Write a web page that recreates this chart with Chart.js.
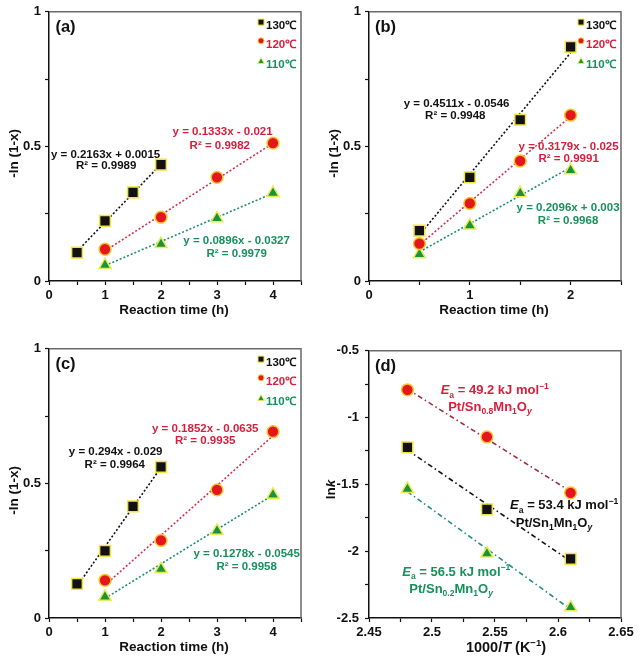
<!DOCTYPE html>
<html><head><meta charset="utf-8">
<script src="https://cdn.jsdelivr.net/npm/chart.js@4"></script>
<style>
body{margin:0;background:#fff;width:640px;height:657px;position:relative;overflow:hidden}
canvas{position:absolute}
</style></head><body>
<canvas id="ca" width="320" height="320" style="left:0;top:0"></canvas>
<canvas id="cb" width="320" height="320" style="left:320px;top:0"></canvas>
<canvas id="cc" width="320" height="320" style="left:0;top:337px"></canvas>
<canvas id="cd" width="320" height="320" style="left:320px;top:337px"></canvas>
<script>
// ---------------- DATA ----------------
const tempLabels = ['130℃', '120℃', '110℃'];

// (a)
const aX130 = [0.5, 1, 1.5, 2];   const aY130 = [0.105, 0.223, 0.329, 0.432];
const aX120 = [1, 2, 3, 4];       const aY120 = [0.118, 0.237, 0.385, 0.512];
const aX110 = [1, 2, 3, 4];       const aY110 = [0.059, 0.137, 0.233, 0.327];
const aFitX130 = [0.5, 2];        const aFitY130 = [0.110, 0.434];
const aFitX120 = [1, 4];          const aFitY120 = [0.112, 0.512];
const aFitX110 = [1, 4];          const aFitY110 = [0.057, 0.326];

// (b)
const bX = [0.5, 1, 1.5, 2];
const bY130 = [0.187, 0.385, 0.599, 0.870];
const bY120 = [0.139, 0.288, 0.446, 0.616];
const bY110 = [0.099, 0.206, 0.326, 0.411];
const bFitX = [0.5, 2];
const bFitY130 = [0.171, 0.848];
const bFitY120 = [0.134, 0.611];
const bFitY110 = [0.108, 0.422];

// (c)
const cX130 = [0.5, 1, 1.5, 2];   const cY130 = [0.127, 0.249, 0.415, 0.561];
const cX120 = [1, 2, 3, 4];       const cY120 = [0.140, 0.288, 0.476, 0.692];
const cX110 = [1, 2, 3, 4];       const cY110 = [0.079, 0.182, 0.324, 0.458];
const cFitX130 = [0.5, 2];        const cFitY130 = [0.118, 0.559];
const cFitX120 = [1, 4];          const cFitY120 = [0.122, 0.677];
const cFitX110 = [1, 4];          const cFitY110 = [0.073, 0.457];

// (d)
const dX = [2.4805, 2.5436, 2.6100];
const dLnkSn08 = [-0.792, -1.145, -1.563];
const dLnkSn1  = [-1.223, -1.687, -2.057];
const dLnkSn02 = [-1.534, -2.018, -2.420];
const dFitX = [2.4805, 2.6100];
const dFitSn08 = [-0.787, -1.553];
const dFitSn1  = [-1.243, -2.075];
const dFitSn02 = [-1.554, -2.435];

// ticks
const abcYTicks = [0, 0.25, 0.5, 0.75, 1];
const abcYLabels = {'0': '0', '0.5': '0.5', '1': '1'};
const acXTicks = [0, 0.5, 1, 1.5, 2, 2.5, 3, 3.5, 4, 4.5];
const acXLabels = {'0': '0', '1': '1', '2': '2', '3': '3', '4': '4'};
const bXTicks = [0, 0.5, 1, 1.5, 2, 2.5];
const bXLabels = {'0': '0', '1': '1', '2': '2'};
const dXTicks = [2.45, 2.475, 2.5, 2.525, 2.55, 2.575, 2.6, 2.625, 2.65];
const dXLabels = {'2.45': '2.45', '2.5': '2.5', '2.55': '2.55', '2.6': '2.6', '2.65': '2.65'};
const dYTicks = [-2.5, -2.25, -2, -1.75, -1.5, -1.25, -1, -0.75, -0.5];
const dYLabels = {'-2.5': '-2.5', '-2': '-2', '-1.5': '-1.5', '-1': '-1', '-0.5': '-0.5'};

// ---------------- STYLE ----------------
const FONT = '"Liberation Sans", Arial, Helvetica, sans-serif';
const COL = {
  black: '#111111', red: '#e4161d', redText: '#d8203c', redLine: '#cf3350',
  green: '#1d9140', greenText: '#17915b', greenLine: '#1b8f6c',
  yellow: '#f2e43a', orange: '#f7c42c', ygreen: '#e6ee55', frame: '#6a6a6a',
  dRed: '#a0303f', dGreen: '#2a8c80'
};
const DOT = [2, 2];
const DASHDOT = [5, 3, 1.5, 3];

function pts(xs, ys) { return xs.map((x, i) => ({x: x, y: ys[i]})); }
const MK = {
  sq: {pointStyle: 'rect', r: 7.6, bg: COL.black, bd: COL.yellow},
  ci: {pointStyle: 'circle', r: 5.9, bg: COL.red, bd: COL.orange},
  tr: {pointStyle: 'triangle', r: 6.9, bg: COL.green, bd: COL.ygreen}
};
function markerDS(xs, ys, kind) {
  const s = MK[kind];
  return {data: pts(xs, ys), showLine: false, pointStyle: s.pointStyle, pointRadius: s.r,
    pointHoverRadius: s.r, pointBackgroundColor: s.bg, pointBorderColor: s.bd, pointBorderWidth: 1.5, order: 0};
}
function fitDS(xs, ys, color, dash) {
  return {data: pts(xs, ys), showLine: true, borderColor: color, borderWidth: 1.6, borderDash: dash,
    pointRadius: 0, pointHoverRadius: 0, fill: false, order: 1};
}

function drawRich(ctx, segs, cx, cy, size, color, rot) {
  ctx.save();
  ctx.translate(cx, cy);
  if (rot) ctx.rotate(rot);
  const f = s => (s.i ? 'italic ' : '') + 'bold ' + ((s.sub || s.sup) ? size * 0.66 : size) + 'px ' + FONT;
  let w = 0;
  segs.forEach(s => { ctx.font = f(s); s.w = ctx.measureText(s.t).width; w += s.w; });
  let x = -w / 2;
  ctx.fillStyle = color;
  ctx.textBaseline = 'alphabetic';
  ctx.textAlign = 'left';
  const base = size * 0.36;
  segs.forEach(s => {
    ctx.font = f(s);
    const dy = s.sub ? size * 0.28 : (s.sup ? -size * 0.42 : 0);
    ctx.fillText(s.t, x, base + dy);
    x += s.w;
  });
  ctx.restore();
}

function drawMarker(ctx, kind, x, y, r) {
  const s = MK[kind];
  ctx.save();
  ctx.fillStyle = s.bg; ctx.strokeStyle = s.bd; ctx.lineWidth = 1;
  ctx.beginPath();
  if (kind === 'sq') { ctx.rect(x - r, y - r, 2 * r, 2 * r); }
  else if (kind === 'ci') { ctx.arc(x, y, r, 0, Math.PI * 2); }
  else { ctx.moveTo(x, y - r * 1.1); ctx.lineTo(x + r, y + r * 0.7); ctx.lineTo(x - r, y + r * 0.7); ctx.closePath(); }
  ctx.fill(); ctx.stroke();
  ctx.restore();
}

function decoPlugin(p) {
  return {
    id: 'deco',
    afterDraw(chart) {
      const ctx = chart.ctx, a = chart.chartArea, sx = chart.scales.x, sy = chart.scales.y;
      // frame top & right
      ctx.save();
      ctx.strokeStyle = COL.frame; ctx.lineWidth = 1.5;
      ctx.beginPath(); ctx.moveTo(a.left, a.top); ctx.lineTo(a.right, a.top); ctx.lineTo(a.right, a.bottom); ctx.stroke();
      ctx.restore();
      // panel label
      drawRich(ctx, [{t: p.label}], a.left + 16.5, a.top + 14, 16.5, COL.black);
      // axis titles
      drawRich(ctx, p.xTitle, (a.left + a.right) / 2 + p.xTitleDx, a.bottom + 28.5, p.xTitleSize || 13.5, COL.black);
      drawRich(ctx, p.yTitle, p.yTitleX, (a.top + a.bottom) / 2 + p.yTitleDy, 13.5, COL.black, -Math.PI / 2);
      // legend
      if (p.legend) {
        const kinds = ['sq', 'ci', 'tr'], cols = [COL.black, COL.redText, COL.greenText], dy = [10.3, 29, 49.5];
        const rr = [3, 3, 3.3];
        kinds.forEach((k, i) => {
          drawMarker(ctx, k, a.right - 40, a.top + dy[i], rr[i]);
          ctx.save();
          ctx.font = 'bold 11.5px ' + FONT; ctx.fillStyle = cols[i];
          ctx.textAlign = 'left'; ctx.textBaseline = 'middle';
          ctx.fillText(tempLabels[i], a.right - 35, a.top + dy[i] + 4);
          ctx.restore();
        });
      }
      // annotations
      p.notes.forEach(n => {
        drawRich(ctx, n.segs || [{t: n.t}], sx.getPixelForValue(n.x), sy.getPixelForValue(n.y), n.size || 11.5, n.c);
      });
    }
  };
}

function axis(ticks, labels, min, max, pad, isY) {
  return {
    type: 'linear', min: min, max: max,
    afterBuildTicks: s => { s.ticks = ticks.map(v => ({value: v})); },
    afterFit: s => { if (isY) s.width = 49; else s.height = 39; },
    grid: {display: true, drawOnChartArea: false, drawTicks: true, tickLength: 4, tickColor: '#111', tickWidth: 1.2},
    border: {display: true, color: '#111', width: 1.5},
    ticks: {
      autoSkip: false, maxRotation: 0, minRotation: 0, padding: pad, color: '#111',
      font: {family: FONT, size: 13, weight: 'bold'},
      callback: v => { const k = String(Math.round(v * 1000) / 1000); return labels[k] !== undefined ? labels[k] : ''; }
    },
    title: {display: false}
  };
}

function makeChart(id, datasets, xAx, yAx, p) {
  new Chart(document.getElementById(id), {
    type: 'scatter',
    data: {datasets: datasets},
    options: {
      responsive: false, animation: false, devicePixelRatio: 1,
      layout: {padding: {left: 0, top: 7, right: 19, bottom: 0}},
      plugins: {legend: {display: false}, tooltip: {enabled: false}},
      events: [],
      scales: {x: xAx, y: yAx}
    },
    plugins: [decoPlugin(p)]
  });
}

const reactionTitle = [{t: 'Reaction time (h)'}];
const lnTitle = [{t: '-ln (1-x)'}];

// (a)
makeChart('ca', [
  markerDS(aX130, aY130, 'sq'), markerDS(aX120, aY120, 'ci'), markerDS(aX110, aY110, 'tr'),
  fitDS(aFitX130, aFitY130, COL.black, DOT), fitDS(aFitX120, aFitY120, COL.redLine, DOT), fitDS(aFitX110, aFitY110, COL.greenLine, DOT)
], axis(acXTicks, acXLabels, 0, 4.5, 3, false), axis(abcYTicks, abcYLabels, 0, 1, 4, true), {
  label: '(a)', legend: true, xTitle: reactionTitle, xTitleDx: -1, yTitle: lnTitle, yTitleX: 13.3, yTitleDy: 7,
  notes: [
    {x: 1.01, y: 0.474, t: 'y = 0.2163x + 0.0015', c: COL.black},
    {x: 1.02, y: 0.430, t: 'R² = 0.9989', c: COL.black},
    {x: 3.10, y: 0.557, t: 'y = 0.1333x - 0.021', c: COL.redText},
    {x: 3.05, y: 0.505, t: 'R² = 0.9982', c: COL.redText},
    {x: 3.35, y: 0.152, t: 'y = 0.0896x - 0.0327', c: COL.greenText},
    {x: 3.35, y: 0.103, t: 'R² = 0.9979', c: COL.greenText}
  ]
});

// (b)
makeChart('cb', [
  markerDS(bX, bY130, 'sq'), markerDS(bX, bY120, 'ci'), markerDS(bX, bY110, 'tr'),
  fitDS(bFitX, bFitY130, COL.black, DOT), fitDS(bFitX, bFitY120, COL.redLine, DOT), fitDS(bFitX, bFitY110, COL.greenLine, DOT)
], axis(bXTicks, bXLabels, 0, 2.5, 3, false), axis(abcYTicks, abcYLabels, 0, 1, 4, true), {
  label: '(b)', legend: true, xTitle: reactionTitle, xTitleDx: -1, yTitle: lnTitle, yTitleX: 13.3, yTitleDy: 7,
  notes: [
    {x: 0.869, y: 0.663, t: 'y = 0.4511x - 0.0546', c: COL.black},
    {x: 0.856, y: 0.616, t: 'R² = 0.9948', c: COL.black},
    {x: 1.98, y: 0.502, t: 'y = 0.3179x - 0.025', c: COL.redText},
    {x: 1.98, y: 0.457, t: 'R² = 0.9991', c: COL.redText},
    {x: 1.975, y: 0.274, t: 'y = 0.2096x + 0.003', c: COL.greenText},
    {x: 1.975, y: 0.227, t: 'R² = 0.9968', c: COL.greenText}
  ]
});

// (c)
makeChart('cc', [
  markerDS(cX130, cY130, 'sq'), markerDS(cX120, cY120, 'ci'), markerDS(cX110, cY110, 'tr'),
  fitDS(cFitX130, cFitY130, COL.black, DOT), fitDS(cFitX120, cFitY120, COL.redLine, DOT), fitDS(cFitX110, cFitY110, COL.greenLine, DOT)
], axis(acXTicks, acXLabels, 0, 4.5, 3, false), axis(abcYTicks, abcYLabels, 0, 1, 4, true), {
  label: '(c)', legend: true, xTitle: reactionTitle, xTitleDx: -1, yTitle: lnTitle, yTitleX: 13.3, yTitleDy: 7,
  notes: [
    {x: 1.19, y: 0.620, t: 'y = 0.294x - 0.029', c: COL.black},
    {x: 1.175, y: 0.572, t: 'R² = 0.9964', c: COL.black},
    {x: 2.79, y: 0.708, t: 'y = 0.1852x - 0.0635', c: COL.redText},
    {x: 2.79, y: 0.661, t: 'R² = 0.9935', c: COL.redText},
    {x: 3.53, y: 0.243, t: 'y = 0.1278x - 0.0545', c: COL.greenText},
    {x: 3.53, y: 0.195, t: 'R² = 0.9958', c: COL.greenText}
  ]
});

// (d)
makeChart('cd', [
  markerDS(dX, dLnkSn08, 'ci'), markerDS(dX, dLnkSn1, 'sq'), markerDS(dX, dLnkSn02, 'tr'),
  fitDS(dFitX, dFitSn08, COL.dRed, DASHDOT), fitDS(dFitX, dFitSn1, COL.black, DASHDOT), fitDS(dFitX, dFitSn02, COL.dGreen, DASHDOT)
], axis(dXTicks, dXLabels, 2.45, 2.65, 3, false), axis(dYTicks, dYLabels, -2.5, -0.5, 6, true), {
  label: '(d)', legend: false,
  xTitle: [{t: '1000/'}, {t: 'T', i: true}, {t: ' (K'}, {t: '−1', sup: true}, {t: ')'}], xTitleDx: 11, xTitleSize: 14.5,
  yTitle: [{t: 'ln'}, {t: 'k', i: true}], yTitleX: 10.3, yTitleDy: 5,
  notes: [
    {x: 2.5498, y: -0.792, size: 13, c: COL.redText, segs: [{t: 'E', i: true}, {t: 'a', sub: true}, {t: ' = 49.2 kJ mol'}, {t: '−1', sup: true}]},
    {x: 2.546, y: -0.912, size: 13, c: COL.redText, segs: [{t: 'Pt/Sn'}, {t: '0.8', sub: true}, {t: 'Mn'}, {t: '1', sub: true}, {t: 'O'}, {t: 'y', sub: true, i: true}]},
    {x: 2.6049, y: -1.649, size: 13, c: COL.black, segs: [{t: 'E', i: true}, {t: 'a', sub: true}, {t: ' = 53.4 kJ mol'}, {t: '−1', sup: true}]},
    {x: 2.5968, y: -1.7825, size: 13, c: COL.black, segs: [{t: 'Pt/Sn'}, {t: '1', sub: true}, {t: 'Mn'}, {t: '1', sub: true}, {t: 'O'}, {t: 'y', sub: true, i: true}]},
    {x: 2.5193, y: -2.1475, size: 13, c: COL.greenText, segs: [{t: 'E', i: true}, {t: 'a', sub: true}, {t: ' = 56.5 kJ mol'}, {t: '−1', sup: true}]},
    {x: 2.5152, y: -2.2766, size: 13, c: COL.greenText, segs: [{t: 'Pt/Sn'}, {t: '0.2', sub: true}, {t: 'Mn'}, {t: '1', sub: true}, {t: 'O'}, {t: 'y', sub: true, i: true}]}
  ]
});
</script>
</body></html>
